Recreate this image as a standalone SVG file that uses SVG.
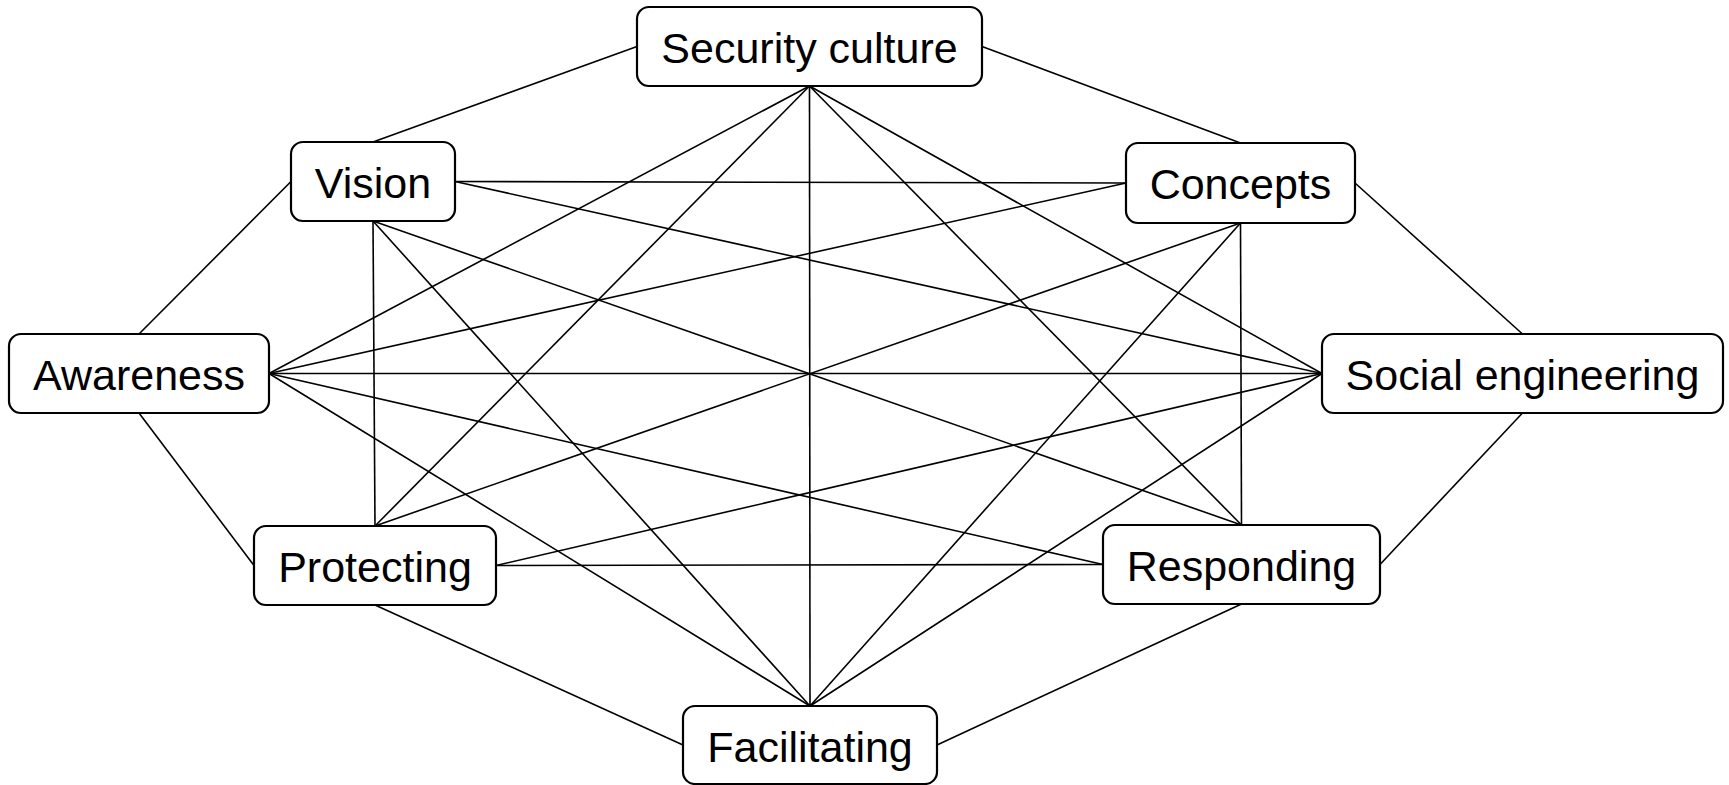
<svg xmlns="http://www.w3.org/2000/svg" width="1729" height="785" viewBox="0 0 1729 785">
  <style>
    .node rect { fill: #ffffff; stroke: #000000; stroke-width: 2.2; }
    .node text { font-family: "Liberation Sans", Arial, sans-serif; font-size: 43px; fill: #000000; text-anchor: middle; }
    #connectors line { stroke: #000000; stroke-width: 1.6; fill: none; }
  </style>
  <rect x="0" y="0" width="1729" height="785" fill="#ffffff"/>

  <g id="connectors">
    <!-- outer ring -->
    <line x1="637" y1="46.5" x2="373" y2="142"/>
    <line x1="982" y1="46.5" x2="1240.5" y2="143"/>
    <line x1="291" y1="181.5" x2="139" y2="334"/>
    <line x1="1355" y1="183" x2="1522.5" y2="334"/>
    <line x1="139" y1="413" x2="254" y2="565.5"/>
    <line x1="1522.5" y1="413" x2="1380" y2="564.5"/>
    <line x1="375" y1="605" x2="683" y2="745"/>
    <line x1="1241.5" y1="604" x2="937" y2="745"/>
    <!-- Security culture -->
    <line x1="809.5" y1="86" x2="269" y2="373.5"/>
    <line x1="809.5" y1="86" x2="375" y2="526"/>
    <line x1="809.5" y1="86" x2="810" y2="706"/>
    <line x1="809.5" y1="86" x2="1241.5" y2="525"/>
    <line x1="809.5" y1="86" x2="1322" y2="373.5"/>
    <!-- Vision -->
    <line x1="455" y1="181.5" x2="1126" y2="183"/>
    <line x1="455" y1="181.5" x2="1322" y2="373.5"/>
    <line x1="373" y1="221" x2="375" y2="526"/>
    <line x1="373" y1="221" x2="810" y2="706"/>
    <line x1="373" y1="221" x2="1241.5" y2="525"/>
    <!-- Concepts -->
    <line x1="1126" y1="183" x2="269" y2="373.5"/>
    <line x1="1240.5" y1="223" x2="375" y2="526"/>
    <line x1="1240.5" y1="223" x2="810" y2="706"/>
    <line x1="1240.5" y1="223" x2="1241.5" y2="525"/>
    <!-- Awareness -->
    <line x1="269" y1="373.5" x2="1322" y2="373.5"/>
    <line x1="269" y1="373.5" x2="1103" y2="564.5"/>
    <line x1="269" y1="373.5" x2="810" y2="706"/>
    <!-- Social engineering -->
    <line x1="1322" y1="373.5" x2="496" y2="565.5"/>
    <line x1="1322" y1="373.5" x2="810" y2="706"/>
    <!-- Protecting -->
    <line x1="496" y1="565.5" x2="1103" y2="564.5"/>
  </g>

  <g id="security-culture" class="node">
    <rect x="637" y="7" width="345" height="79" rx="12"/>
    <text x="809.5" y="63">Security culture</text>
  </g>
  <g id="vision" class="node">
    <rect x="291" y="142" width="164" height="79" rx="12"/>
    <text x="373" y="197.5">Vision</text>
  </g>
  <g id="concepts" class="node">
    <rect x="1126" y="143" width="229" height="80" rx="12"/>
    <text x="1240.5" y="198.5">Concepts</text>
  </g>
  <g id="awareness" class="node">
    <rect x="9" y="334" width="260" height="79" rx="12"/>
    <text x="139" y="389.5">Awareness</text>
  </g>
  <g id="social-engineering" class="node">
    <rect x="1322" y="334" width="401" height="79" rx="12"/>
    <text x="1522.5" y="389.5">Social engineering</text>
  </g>
  <g id="protecting" class="node">
    <rect x="254" y="526" width="242" height="79" rx="12"/>
    <text x="375" y="581.5">Protecting</text>
  </g>
  <g id="responding" class="node">
    <rect x="1103" y="525" width="277" height="79" rx="12"/>
    <text x="1241.5" y="580.5">Responding</text>
  </g>
  <g id="facilitating" class="node">
    <rect x="683" y="706" width="254" height="78" rx="12"/>
    <text x="810" y="761.5">Facilitating</text>
  </g>
</svg>
